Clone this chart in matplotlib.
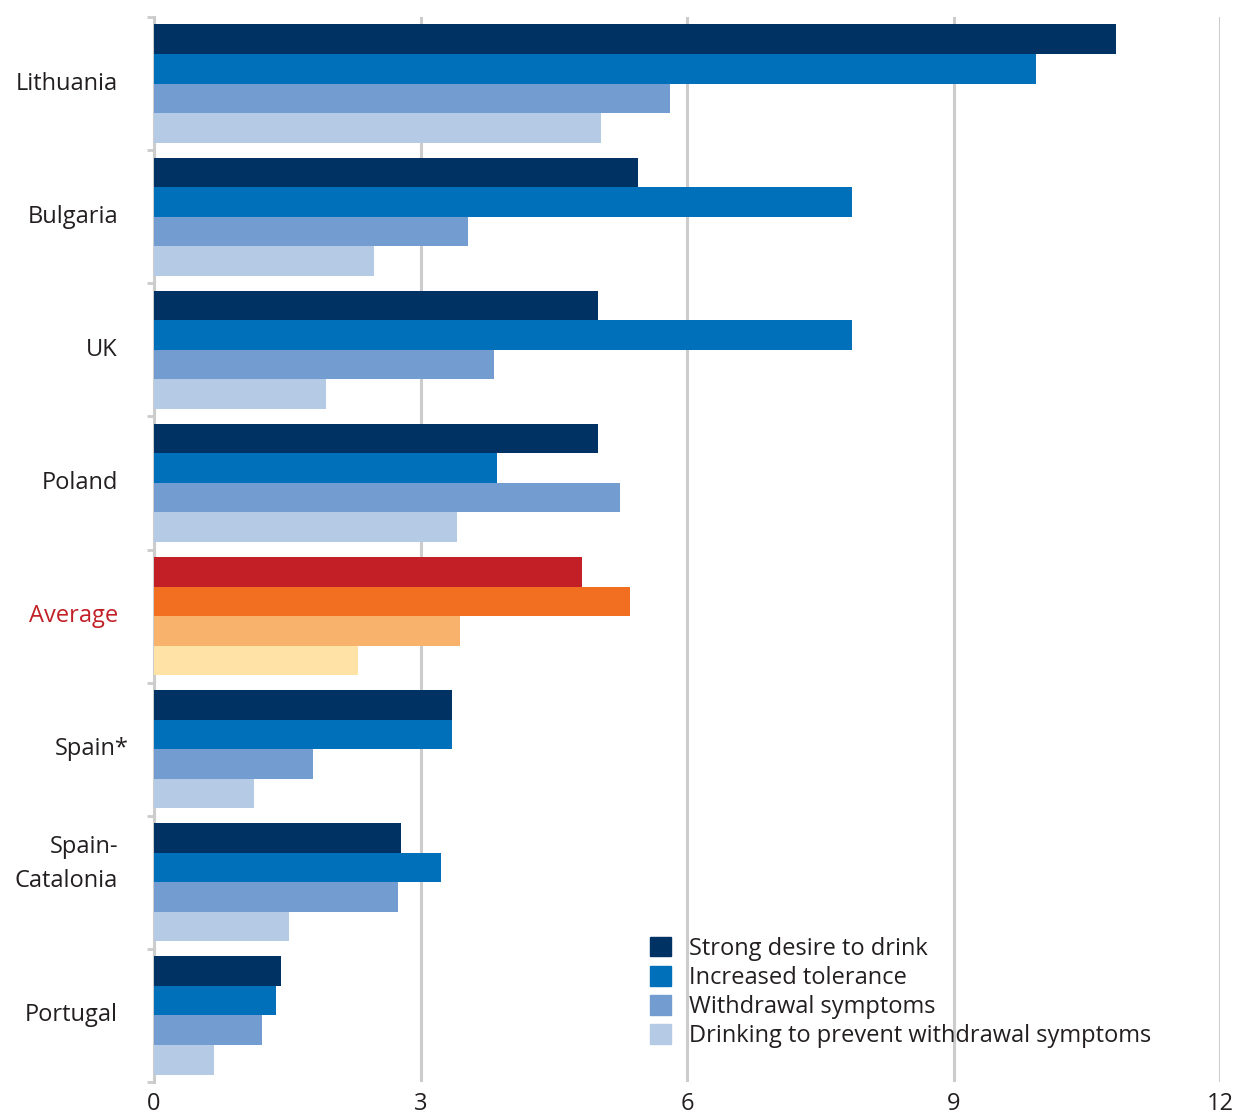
import numpy as np
import matplotlib.pyplot as plt
from matplotlib.patches import Patch
from matplotlib.transforms import offset_copy

plt.rcParams['font.family'] = ['Open Sans', 'DejaVu Sans']

countries = ["Lithuania", "Bulgaria", "UK", "Poland", "Average",
             "Spain*", "Spain-\nCatalonia", "Portugal"]
series = ["Strong desire to drink", "Increased tolerance",
          "Withdrawal symptoms", "Drinking to prevent withdrawal symptoms"]

strong_desire = [10.83, 5.45, 5.0, 5.0, 4.82, 3.36, 2.78, 1.43]
tolerance     = [9.93, 7.86, 7.86, 3.86, 5.36, 3.36, 3.23, 1.37]
withdrawal    = [5.81, 3.54, 3.83, 5.25, 3.45, 1.79, 2.75, 1.22]
prevent       = [5.03, 2.48, 1.94, 3.41, 2.30, 1.13, 1.52, 0.68]

blues = ["#003263", "#0070ba", "#739cd0", "#b5cbe5"]
oranges = ["#c22026", "#f26f22", "#f9b26c", "#fee2a6"]
grey = "#cccccc"
dark = "#231f20"

fig = plt.figure(figsize=(12.39, 11.16), dpi=100)
ax = fig.add_axes([154 / 1239, 1 - 1082 / 1116, (1220 - 154) / 1239, (1082 - 17) / 1116])

y = np.arange(len(countries))
h = 0.222
values = [strong_desire, tolerance, withdrawal, prevent]
for k, vals in enumerate(values):
    cols = [oranges[k] if c == "Average" else blues[k] for c in countries]
    ax.barh(y + (k - 1.5) * h, vals, height=h, color=cols, zorder=3)

ax.set_xlim(0, 12)
ax.set_ylim(len(countries) - 0.5, -0.5)
ax.set_xticks([0, 3, 6, 9, 12])
ax.tick_params(axis='x', length=0, pad=7, labelsize=17, labelcolor=dark)
ax.xaxis.grid(True, color=grey, linewidth=2.2)
ax.set_axisbelow(True)

# category boundaries carry the small tick marks
ax.set_yticks(np.arange(len(countries) + 1) - 0.5)
ax.set_yticklabels([])
ax.tick_params(axis='y', which='major', length=5, width=2, color=grey)

# country names as text next to the axis
for i, c in enumerate(countries):
    col = "#c22026" if c == "Average" else dark
    dx = -26
    dy = 0
    ls = 1.2
    if c.startswith("Spain-"):
        dy = 0.14
        ls = 1.55
    if c == "Spain*":
        dx = -18
    tr = offset_copy(ax.get_yaxis_transform(), fig=fig, x=dx, y=0, units='points')
    ax.text(0, i - dy, c, transform=tr, ha="right", va="center",
            fontsize=17, color=col, linespacing=ls, multialignment="right")

for s in ["top", "right", "bottom"]:
    ax.spines[s].set_visible(False)
ax.spines["left"].set_color(grey)
ax.spines["left"].set_linewidth(2.2)

handles = [Patch(color=c) for c in blues]
fig.legend(handles, series, loc="upper left",
           bbox_to_anchor=(638 / 1239, 1 - 925 / 1116), frameon=False,
           fontsize=17, handlelength=0.9, handleheight=0.9,
           handletextpad=0.75, labelspacing=0.22, borderpad=0,
           labelcolor=dark)

fig.savefig("out.png", dpi=100)
